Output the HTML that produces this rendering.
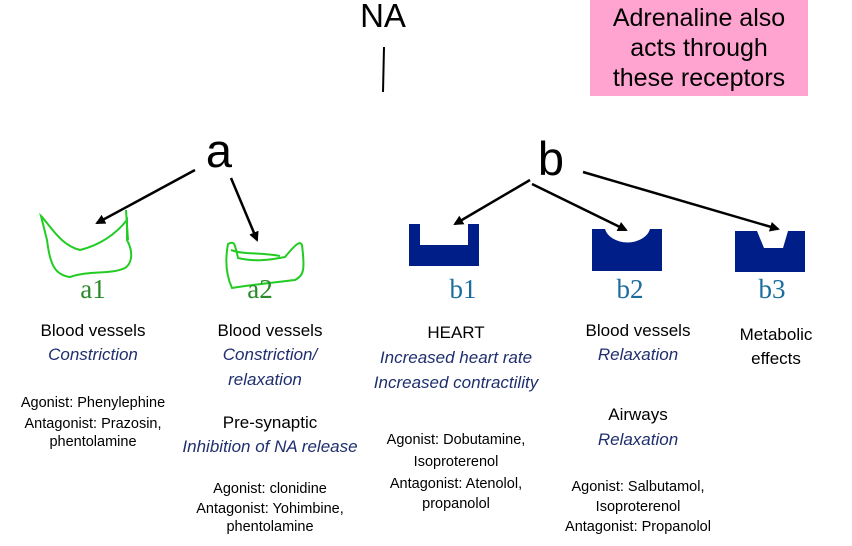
<!DOCTYPE html>
<html><head><meta charset="utf-8"><style>
body{margin:0;width:852px;height:546px;background:#fff;position:relative;overflow:hidden;font-family:"Liberation Sans",sans-serif}
.t{position:absolute;transform:translateX(-50%);white-space:nowrap;color:#000}
.i{font-style:italic;color:#1f2f6e}
.s16{font-size:17px}.s14{font-size:14.5px}
.lbl{position:absolute;transform:translateX(-50%);font-family:"Liberation Serif",serif;font-size:27px}
</style></head><body>
<div style="position:absolute;left:590px;top:0;width:218px;height:96px;background:#ffa3d0"></div>
<div class="t" style="left:699px;top:3px;font-size:25px;line-height:30px;text-align:center">Adrenaline also<br>acts through<br>these receptors</div>
<div class="t" style="left:383px;top:-3px;font-size:33px">NA</div>
<div class="t" style="left:219px;top:123px;font-size:47px">a</div>
<div class="t" style="left:551px;top:131px;font-size:47px">b</div>
<svg width="852" height="546" style="position:absolute;left:0;top:0">
<defs><marker id="ar" markerWidth="10" markerHeight="10" refX="8" refY="5" orient="auto" markerUnits="userSpaceOnUse"><path d="M0,0 L10,5 L0,10 z" fill="#000"/></marker></defs>
<g stroke="#000" stroke-width="2.5" fill="none" marker-end="url(#ar)">
<line x1="195" y1="170" x2="97" y2="223"/>
<line x1="231" y1="178" x2="257" y2="240"/>
<line x1="530" y1="180" x2="455" y2="224"/>
<line x1="532" y1="184" x2="626" y2="230"/>
<line x1="583" y1="172" x2="778" y2="229"/>
</g>
<line x1="384" y1="47" x2="383" y2="92" stroke="#000" stroke-width="2"/>
<g stroke="#22cc22" stroke-width="2" fill="none">
<path d="M41,216 C50,225 60,245 80,250 C100,245 115,235 127,220 L127,240 C135,255 130,265 125,268 C110,275 90,270 70,277 C55,275 50,265 47,240 Z"/>
<path d="M228,244 C235,240 235,245 238,258 C255,262 270,260 285,257 C295,245 300,240 302,245 C305,270 304,275 295,280 C270,283 250,285 232,288 C226,275 225,260 228,244 Z"/>
<path d="M231,250 C245,255 260,252 280,256 M126,210 L128,240"/>
</g>
<g fill="#001e87">
<path d="M409,224 H420 V245 H468 V224 H479 V266 H409 Z"/>
<path d="M592,229 H605 A23,17 0 0 0 650,229 H662 V271 H592 Z"/>
<path d="M735,231 H757 L764,248 H783 L788,231 H805 V272 H735 Z"/>
</g>
</svg>
<div class="lbl" style="left:93px;top:274px;color:#2a8a2a">a1</div>
<div class="lbl" style="left:260px;top:274px;color:#2a8a2a">a2</div>
<div class="lbl" style="left:463px;top:274px;color:#1a6e9e">b1</div>
<div class="lbl" style="left:630px;top:274px;color:#1a6e9e">b2</div>
<div class="lbl" style="left:772px;top:274px;color:#1a6e9e">b3</div>

<div class="t s16" style="left:93px;top:321px">Blood vessels</div>
<div class="t s16 i" style="left:93px;top:345px">Constriction</div>
<div class="t s14" style="left:93px;top:395px">Agonist: Phenylephine</div>
<div class="t s14" style="left:93px;top:416px">Antagonist: Prazosin,</div>
<div class="t s14" style="left:93px;top:434px">phentolamine</div>

<div class="t s16" style="left:270px;top:321px">Blood vessels</div>
<div class="t s16 i" style="left:270px;top:345px">Constriction/</div>
<div class="t s16 i" style="left:265px;top:370px">relaxation</div>
<div class="t s16" style="left:270px;top:413px">Pre-synaptic</div>
<div class="t s16 i" style="left:270px;top:437px">Inhibition of NA release</div>
<div class="t s14" style="left:270px;top:481px">Agonist: clonidine</div>
<div class="t s14" style="left:270px;top:501px">Antagonist: Yohimbine,</div>
<div class="t s14" style="left:270px;top:519px">phentolamine</div>

<div class="t s16" style="left:456px;top:323px">HEART</div>
<div class="t s16 i" style="left:456px;top:348px">Increased heart rate</div>
<div class="t s16 i" style="left:456px;top:373px">Increased contractility</div>
<div class="t s14" style="left:456px;top:432px">Agonist: Dobutamine,</div>
<div class="t s14" style="left:456px;top:454px">Isoproterenol</div>
<div class="t s14" style="left:456px;top:476px">Antagonist: Atenolol,</div>
<div class="t s14" style="left:456px;top:496px">propanolol</div>

<div class="t s16" style="left:638px;top:321px">Blood vessels</div>
<div class="t s16 i" style="left:638px;top:345px">Relaxation</div>
<div class="t s16" style="left:638px;top:405px">Airways</div>
<div class="t s16 i" style="left:638px;top:430px">Relaxation</div>
<div class="t s14" style="left:638px;top:479px">Agonist: Salbutamol,</div>
<div class="t s14" style="left:638px;top:499px">Isoproterenol</div>
<div class="t s14" style="left:638px;top:519px">Antagonist: Propanolol</div>

<div class="t s16" style="left:776px;top:325px">Metabolic</div>
<div class="t s16" style="left:776px;top:349px">effects</div>
</body></html>
